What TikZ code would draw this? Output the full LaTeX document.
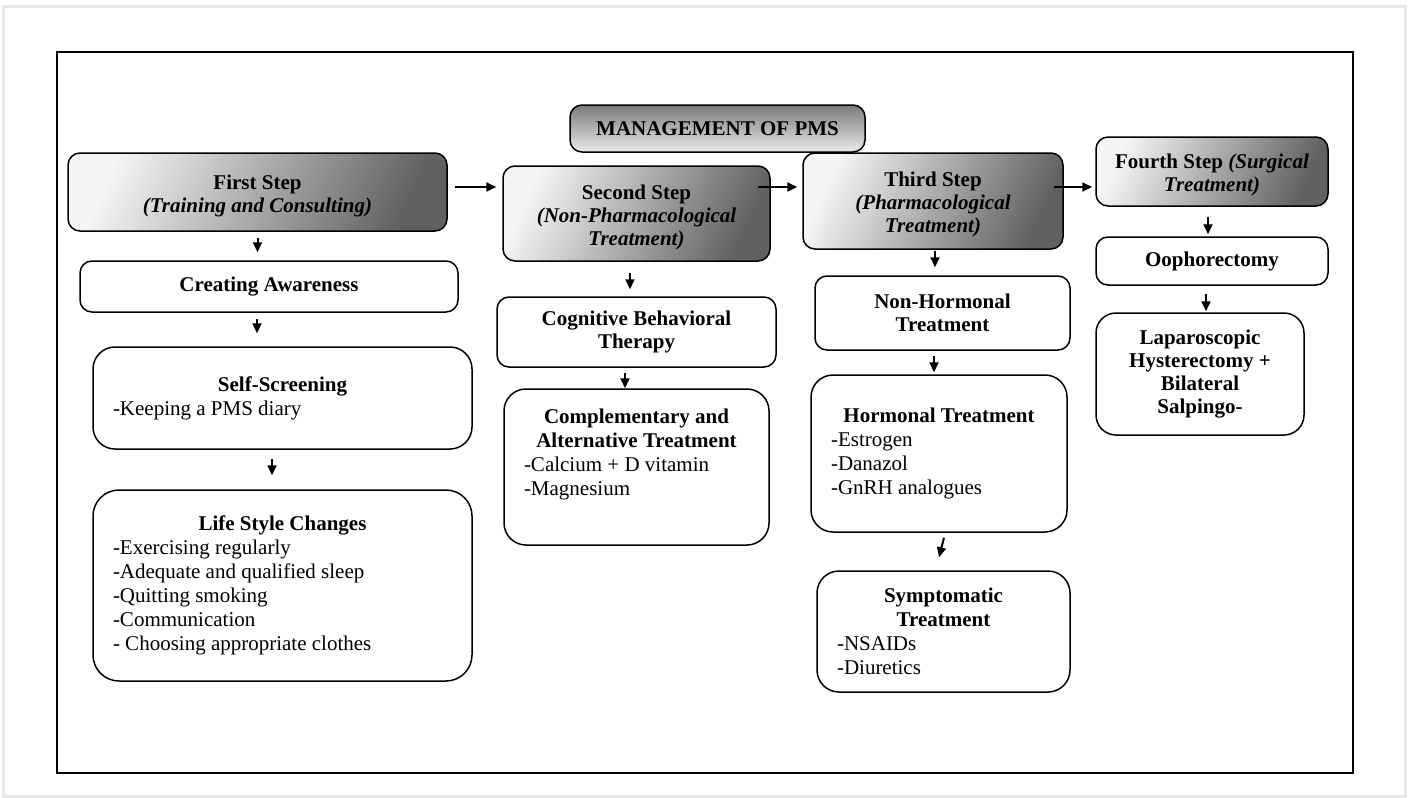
\documentclass[tikz,border=0pt]{standalone}
\usepackage{fontspec}
\setmainfont{Liberation Serif}
\usetikzlibrary{arrows.meta}
\newcommand{\hd}[1]{{\centering\textbf{#1}\par}}
\newcommand{\dn}{\rule{0pt}{22pt}}

\begin{document}
\begin{tikzpicture}[x=1pt,y=-1pt,
  box/.style={draw=black,line width=1.5pt,rounded corners=12pt,inner sep=0pt,align=center,font=\fontsize{21}{23}\selectfont\bfseries},
  stepbox/.style={box,left color=black!4,right color=black!62,shading angle=65},
  titlebox/.style={box,top color=black!52,bottom color=black!8},
  lst/.style={box,rounded corners=22pt,inner xsep=20pt,align=flush left,font=\fontsize{21}{24}\selectfont},
  arr/.style={line width=2pt,-{Triangle[length=10pt,width=9pt]}}]
  \useasboundingbox (0,0) rectangle (1409,798);
  % frames
  \draw[black!9,line width=3pt] (3,6) rectangle (1405,796);
  \draw[line width=1.5pt] (57,52) rectangle (1353,773);
  \node[titlebox,minimum width=295pt,minimum height=47pt] (title) at (717.5,128.5) {MANAGEMENT OF PMS};
  % first step
  \node[stepbox,minimum width=379pt,minimum height=78pt] (first) at (257.5,192) {\dn First Step\\\textit{(Training and Consulting)}};
  \node[box,minimum width=378pt,minimum height=51pt] (aware) at (269,286.5) {Creating Awareness};
  \node[lst,text width=339pt,minimum height=102pt] (self) at (282.5,398) {\hd{Self-Screening}-Keeping a PMS diary};
  \node[lst,rounded corners=26pt,text width=339pt,minimum height=191pt] (life) at (282.5,585.5) {\hd{Life Style Changes}-Exercising regularly\\-Adequate and qualified sleep\\-Quitting smoking\\-Communication\\- Choosing appropriate clothes};
  % second step
  \node[stepbox,minimum width=267pt,minimum height=95pt] (second) at (636.5,213.5) {\dn Second Step\\\textit{(Non-Pharmacological}\\\textit{Treatment)}};
  \node[box,minimum width=279pt,minimum height=70pt] (cbt) at (636.5,332) {Cognitive Behavioral\\Therapy};
  \node[lst,text width=225pt,minimum height=156pt] (comp) at (636.5,467) {\hd{Complementary and\\Alternative Treatment}-Calcium + D vitamin\\-Magnesium\rule[-30pt]{0pt}{0pt}};
  % third step
  \node[stepbox,minimum width=260pt,minimum height=96pt] (third) at (933,201) {\dn Third Step\\\textit{(Pharmacological}\\\textit{Treatment)}};
  \node[box,minimum width=255pt,minimum height=74pt] (nonh) at (942.5,313) {Non-Hormonal\\Treatment};
  \node[lst,text width=216pt,minimum height=157pt] (horm) at (939,453.5) {\hd{Hormonal Treatment}-Estrogen\\-Danazol\\-GnRH analogues};
  \node[lst,text width=213pt,minimum height=121pt] (symp) at (943.5,631.5) {\hd{Symptomatic\\Treatment}-NSAIDs\\-Diuretics};
  % fourth step
  \node[stepbox,minimum width=232pt,minimum height=69pt] (fourth) at (1212,171.5) {\dn Fourth Step \textit{(Surgical}\\\textit{Treatment)}};
  \node[box,minimum width=232pt,minimum height=48pt] (ooph) at (1212,261) {Oophorectomy};
  \node[box,rounded corners=20pt,minimum width=208pt,minimum height=122pt] (lap) at (1200,374) {Laparoscopic\\Hysterectomy +\\Bilateral\\Salpingo-};
  % arrows between steps
  \coordinate (lvl) at (0,187);
  \draw[arr] ([xshift=7pt]first.east |- lvl) -- ([xshift=-6pt]second.west |- lvl);
  \draw[arr] ([xshift=-13pt]second.east |- lvl) -- ([xshift=-5pt]third.west |- lvl);
  \draw[arr] ([xshift=-10pt]third.east |- lvl) -- ([xshift=-3pt]fourth.west |- lvl);
  % arrows down the columns
  \draw[arr] ([yshift=-6pt]first.south) -- ([yshift=8pt]first.south |- aware.north);
  \draw[arr] ([xshift=-12pt,yshift=-6pt]aware.south) -- ([xshift=-12pt,yshift=13pt]aware.south |- self.north);
  \draw[arr] ([xshift=-10.5pt,yshift=-9pt]self.south) -- ([xshift=-10.5pt,yshift=14pt]self.south |- life.north);
  \draw[arr] ([xshift=-6.5pt,yshift=-11pt]second.south) -- ([xshift=-6.5pt,yshift=7pt]second.south |- cbt.north);
  \draw[arr] ([xshift=-11.5pt,yshift=-5pt]cbt.south) -- ([xshift=-11.5pt]cbt.south |- comp.north);
  \draw[arr] ([xshift=2pt,yshift=-1pt]third.south) -- ([xshift=2pt,yshift=8pt]third.south |- nonh.north);
  \draw[arr] ([xshift=-8.5pt,yshift=-5pt]nonh.south) -- ([xshift=-8.5pt,yshift=2pt]nonh.south |- horm.north);
  \draw[arr] ([xshift=5pt,yshift=-5pt]horm.south) -- ([xshift=-4.5pt,yshift=13pt]symp.north);
  \draw[arr] ([xshift=-4pt,yshift=-10pt]fourth.south) -- ([xshift=-4pt,yshift=2pt]fourth.south |- ooph.north);
  \draw[arr] ([xshift=-6pt,yshift=-8pt]ooph.south) -- ([xshift=-6pt,yshift=1pt]ooph.south |- lap.north);
\end{tikzpicture}
\end{document}
